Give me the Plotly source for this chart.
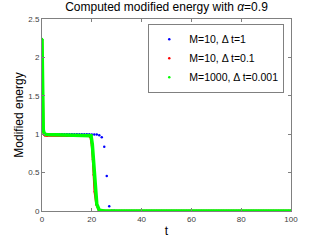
import plotly.graph_objects as go

# ---- data ----
t_blue = list(range(0, 101))
E_blue = [
    2.23, 1.00, 0.998, 0.998, 0.998, 0.998, 0.998, 0.998, 0.998, 0.998,
    0.998, 0.998, 0.998, 0.998, 0.998, 0.998, 0.998, 0.998, 0.998, 0.998,
    0.996, 0.996, 0.996, 0.987, 0.961, 0.836, 0.455, 0.061, 0.004, 0.002,
    0.001, 0.001, 0.001, 0.001, 0.001, 0.001, 0.001, 0.001, 0.001, 0.001,
    0.001, 0.001, 0.001, 0.001, 0.001, 0.001, 0.001, 0.001, 0.001, 0.001,
    0.001, 0.001, 0.001, 0.001, 0.001, 0.001, 0.001, 0.001, 0.001, 0.001,
    0.001, 0.001, 0.001, 0.001, 0.001, 0.001, 0.001, 0.001, 0.001, 0.001,
    0.001, 0.001, 0.001, 0.001, 0.001, 0.001, 0.001, 0.001, 0.001, 0.001,
    0.001, 0.001, 0.001, 0.001, 0.001, 0.001, 0.001, 0.001, 0.001, 0.001,
    0.001, 0.001, 0.001, 0.001, 0.001, 0.001, 0.001, 0.001, 0.001, 0.001,
    0.001,
]

t_red = [0, 0.1, 0.2, 0.3, 0.5, 0.8, 1.2, 2, 10, 18.9, 19.6, 20.1, 20.5,
         20.8, 21.2, 21.9, 22.9, 25, 100]
E_red = [2.23, 1.69, 1.34, 1.14, 1.05, 1.0, 0.985, 0.982, 0.982, 0.98,
         0.96, 0.85, 0.67, 0.47, 0.25, 0.085, 0.01, 0.0, 0.0]

t_green = [0, 0.1, 0.2, 0.3, 0.5, 0.8, 1.2, 2, 10, 19.0, 19.7, 20.2, 20.6,
           20.9, 21.3, 22.0, 23.0, 25, 100]
E_green = [2.24, 1.7, 1.35, 1.15, 1.06, 1.02, 1.0, 0.995, 0.99, 0.99,
           0.98, 0.87, 0.69, 0.48, 0.26, 0.09, 0.01, 0.0, 0.0]

labels = ["M=10, Δ t=1", "M=10, Δ t=0.1", "M=1000, Δ t=0.001"]
colors = ["#0000ff", "#ff0000", "#00ff00"]

FONT = "Liberation Sans, Arial, sans-serif"

fig = go.Figure()

fig.add_trace(go.Scatter(x=t_blue, y=E_blue, mode="markers", name=labels[0],
                         marker=dict(color=colors[0], size=2.5),
                         legendrank=1))
fig.add_trace(go.Scatter(x=t_red, y=E_red, mode="lines", showlegend=False,
                         line=dict(color=colors[1], width=2.5), legendgroup="r"))
fig.add_trace(go.Scatter(x=t_red, y=E_red, mode="markers", name=labels[1],
                         marker=dict(color=colors[1], size=2.5), legendgroup="r",
                         legendrank=2))
fig.add_trace(go.Scatter(x=t_green, y=E_green, mode="lines", showlegend=False,
                         line=dict(color=colors[2], width=3.5), legendgroup="g"))
fig.add_trace(go.Scatter(x=t_green, y=E_green, mode="markers", name=labels[2],
                         marker=dict(color=colors[2], size=2.5), legendgroup="g",
                         legendrank=3))

axis_common = dict(showline=True, linecolor="#808080", linewidth=1, mirror="ticks",
                   ticks="inside", ticklen=3, tickcolor="#808080", showgrid=False,
                   zeroline=False, automargin=False,
                   tickfont=dict(size=8, color="#404040", family=FONT))

fig.update_layout(
    width=321, height=241,
    margin=dict(l=42, r=30, t=19, b=30),
    paper_bgcolor="white", plot_bgcolor="white",
    font=dict(family=FONT, color="black"),
    title=dict(text="Computed modified energy with <i>α</i>=0.9", x=0.5, xref="paper",
               xanchor="center", y=0.99, yanchor="top",
               font=dict(size=12, family=FONT, color="black")),
    xaxis=dict(range=[0, 100], tickvals=[0, 20, 40, 60, 80, 100],
               title=dict(text="t", font=dict(size=12), standoff=4), **axis_common),
    yaxis=dict(range=[0, 2.5], tickvals=[0, 0.5, 1, 1.5, 2, 2.5],
               ticktext=["0", "0.5", "1", "1.5", "2", "2.5"],
               title=dict(text="Modified energy", font=dict(size=12), standoff=2),
               **axis_common),
    legend=dict(x=0.973, y=0.975, xanchor="right", yanchor="top",
                bgcolor="white", bordercolor="#808080", borderwidth=1,
                font=dict(size=10.5, family=FONT, color="black"),
                itemwidth=30, tracegroupgap=0),
    showlegend=True,
)

fig.write_html("out.html", config={"displayModeBar": False},
               post_script="document.body.style.margin='0';document.body.style.overflow='hidden';")
